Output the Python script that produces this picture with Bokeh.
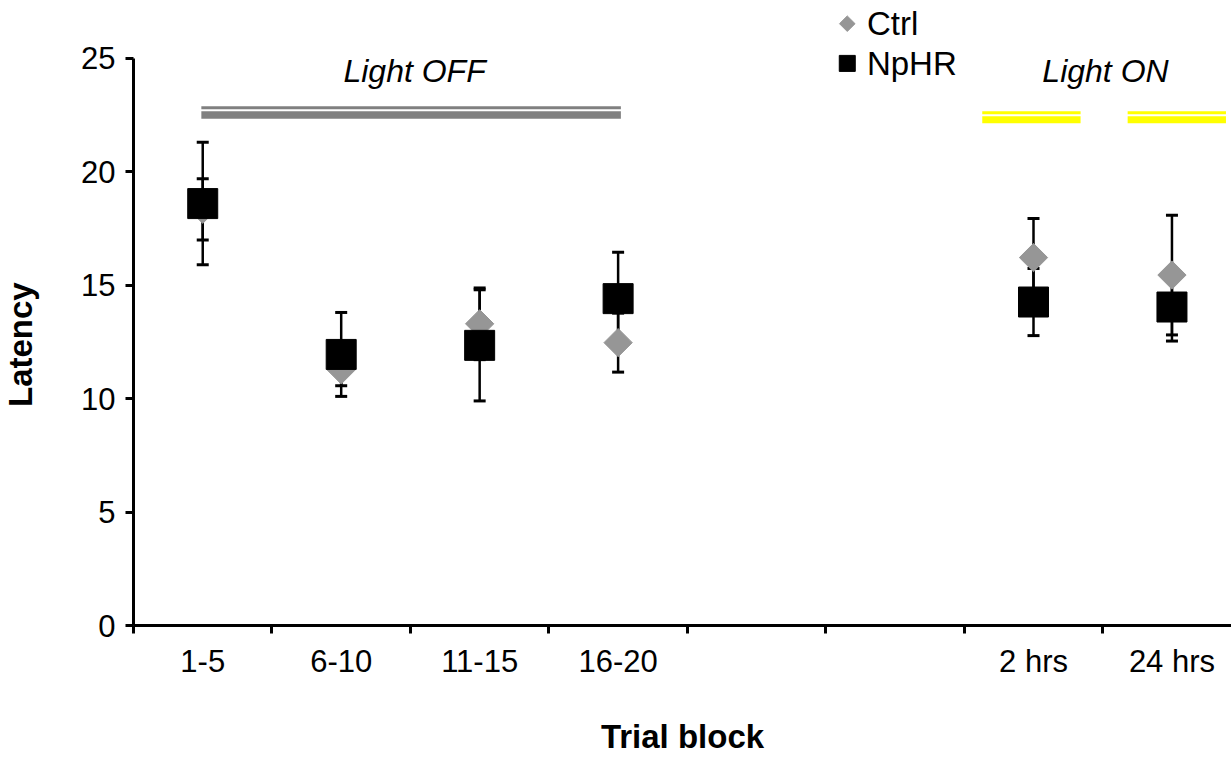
import math
from bokeh.plotting import figure
from bokeh.layouts import row
from bokeh.models import Range1d, FixedTicker
from bokeh.core.properties import value
from bokeh.embed import file_html
from bokeh.resources import INLINE

# ---------------- data ----------------
categories = ["1-5", "6-10", "11-15", "16-20", "", "", "2 hrs", "24 hrs"]
point_categories = ["1-5", "6-10", "11-15", "16-20", "2 hrs", "24 hrs"]

ctrl_mean = [18.35, 11.27, 13.30, 12.47, 16.22, 15.45]
ctrl_err = [1.35, 0.70, 1.58, 1.30, 1.72, 2.64]
nphr_mean = [18.60, 11.95, 12.35, 14.41, 14.26, 14.04]
nphr_err = [2.70, 1.85, 2.45, 2.05, 1.48, 1.50]

series_names = ["Ctrl", "NpHR"]
y_ticks = [0, 5, 10, 15, 20, 25]
y_max = 25

FONT = "Liberation Sans"
GRAY_MARK = "#969696"
GRAY_BAR = "#808080"
YELLOW = "#FFFF00"

# slot centres on a numeric axis (ticks sit between categories, Excel style)
xs = [categories.index(c) + 0.5 for c in point_categories]

W_TOTAL = 1231
H = 757
BOTTOM = 131
FRAME_H = H - BOTTOM

# ---------------- left strip holding the y-axis title ----------------
W_STRIP = 45
strip = figure(width=W_STRIP, height=H, x_range=Range1d(0, W_STRIP), y_range=Range1d(0, FRAME_H),
               output_backend="svg", toolbar_location=None,
               x_axis_type=None, y_axis_type=None,
               min_border_left=0, min_border_right=0, min_border_top=0,
               min_border_bottom=BOTTOM)
strip.outline_line_color = None
strip.xgrid.visible = False
strip.ygrid.visible = False
strip.text(x=[20], y=[FRAME_H - 344.7], text=["Latency"], angle=math.pi / 2,
           text_align="center", text_baseline="middle",
           text_font=value(FONT), text_font_size="33px", text_font_style="bold",
           text_color="black")

# ---------------- main plot ----------------
px_per_unit = 568 / y_max
p = figure(width=W_TOTAL - W_STRIP, height=H,
           x_range=Range1d(0, 7.93), y_range=Range1d(0, FRAME_H / px_per_unit),
           output_backend="svg", toolbar_location=None,
           min_border_left=133 - W_STRIP, min_border_right=0,
           min_border_top=0, min_border_bottom=BOTTOM)
p.xgrid.visible = False
p.ygrid.visible = False
p.outline_line_color = None

xa = p.xaxis[0]
xa.ticker = FixedTicker(ticks=[i + 0.5 for i in range(len(categories))],
                        minor_ticks=list(range(len(categories) + 1)))
xa.major_label_overrides = {i + 0.5: c for i, c in enumerate(categories)}
xa.major_tick_out = 0
xa.major_tick_in = 0
xa.minor_tick_out = 8
xa.minor_tick_in = 0
xa.minor_tick_line_width = 3
xa.minor_tick_line_color = "black"
xa.axis_line_width = 3
xa.axis_line_color = "black"
xa.major_label_text_font = FONT
xa.major_label_text_font_size = "31px"
xa.major_label_text_color = "black"
xa.major_label_standoff = 10
xa.axis_label = "Trial block"
xa.axis_label_text_font = FONT
xa.axis_label_text_font_size = "33px"
xa.axis_label_text_font_style = "bold"
xa.axis_label_text_color = "black"
xa.axis_label_standoff = 36

ya = p.yaxis[0]
ya.ticker = FixedTicker(ticks=y_ticks)
ya.bounds = (0, y_max)
ya.major_tick_out = 8
ya.major_tick_in = 0
ya.major_tick_line_width = 3
ya.major_tick_line_color = "black"
ya.minor_tick_line_color = None
ya.axis_line_width = 3
ya.axis_line_color = "black"
ya.major_label_text_font = FONT
ya.major_label_text_font_size = "31px"
ya.major_label_text_color = "black"
ya.major_label_standoff = 10

# ---------------- light condition bars & labels ----------------
light_off_span = (0.49, 3.52)
light_on_spans = [(6.13, 6.84), (7.18, 7.89)]

p.segment(x0=[light_off_span[0]], x1=[light_off_span[1]], y0=[22.82], y1=[22.82],
          line_color=GRAY_BAR, line_width=3)
p.segment(x0=[light_off_span[0]], x1=[light_off_span[1]], y0=[22.51], y1=[22.51],
          line_color=GRAY_BAR, line_width=7.5)
for a, b in light_on_spans:
    p.segment(x0=[a], x1=[b], y0=[22.60], y1=[22.60], line_color=YELLOW, line_width=3)
    p.segment(x0=[a], x1=[b], y0=[22.30], y1=[22.30], line_color=YELLOW, line_width=7)

p.text(x=[2.03, 7.02], y=[24.43, 24.43], text=["Light OFF", "Light ON"],
       text_align="center", text_baseline="alphabetic",
       text_font=value(FONT), text_font_size="32px", text_font_style="italic",
       text_color="black")

# ---------------- error bars ----------------
for means, errs in ((ctrl_mean, ctrl_err), (nphr_mean, nphr_err)):
    lo = [m - e for m, e in zip(means, errs)]
    hi = [m + e for m, e in zip(means, errs)]
    p.segment(x0=xs, x1=xs, y0=lo, y1=hi, line_color="black", line_width=2.5)
    p.scatter(x=xs + xs, y=lo + hi, marker="dash", size=12, line_width=3, line_color="black")

# ---------------- markers ----------------
p.scatter(x=xs, y=ctrl_mean, marker="square", angle=math.pi / 4, size=20,
          fill_color=GRAY_MARK, line_color=GRAY_MARK)
p.scatter(x=xs, y=nphr_mean, marker="square", size=30,
          fill_color="black", line_color="black", line_join="round")

# ---------------- legend (top, above the light bars) ----------------
leg_x = 5.155
leg_text_x = 5.297
leg_y = [26.53, 24.78]
p.scatter(x=[leg_x], y=[leg_y[0]], marker="square", angle=math.pi / 4, size=11,
          fill_color=GRAY_MARK, line_color=GRAY_MARK)
p.scatter(x=[leg_x], y=[leg_y[1]], marker="square", size=16,
          fill_color="black", line_color="black", line_join="round")
p.text(x=[leg_text_x, leg_text_x], y=leg_y, text=series_names,
       text_align="left", text_baseline="middle",
       text_font=value(FONT), text_font_size="33px", text_color="black")

layout = row(strip, p)
open("out.html", "w").write(file_html(layout, INLINE))
